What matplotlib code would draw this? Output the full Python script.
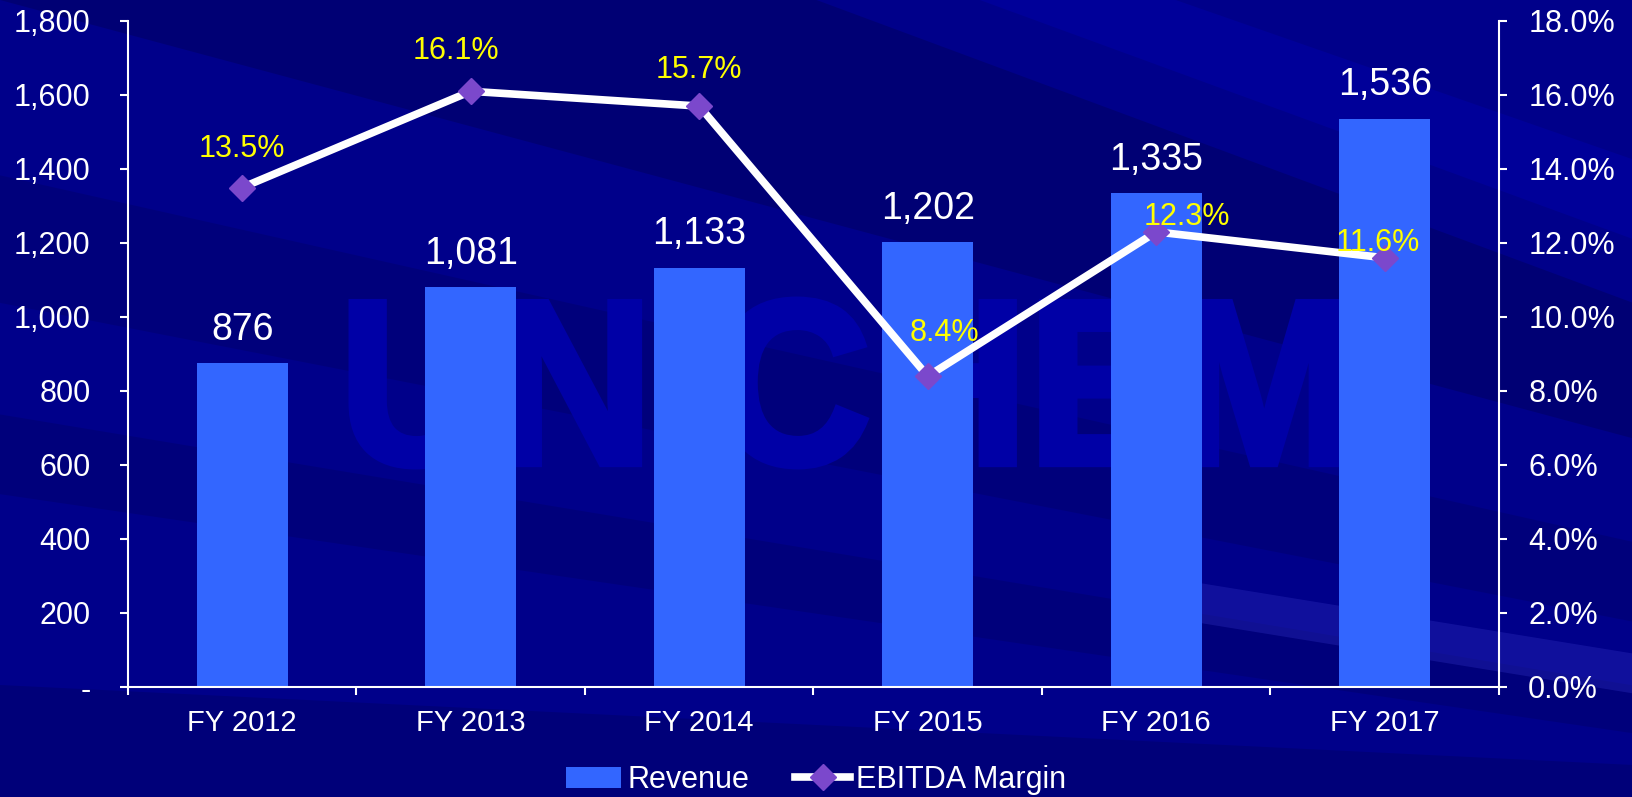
import matplotlib.pyplot as plt
import numpy as np
from matplotlib.patches import Polygon, PathPatch
from matplotlib.textpath import TextPath
from matplotlib.font_manager import FontProperties
from matplotlib.transforms import Affine2D, IdentityTransform
from matplotlib.ticker import FuncFormatter

plt.rcParams['font.family'] = ['Liberation Sans', 'DejaVu Sans']

years = ["FY 2012", "FY 2013", "FY 2014", "FY 2015", "FY 2016", "FY 2017"]
revenue = [876, 1081, 1133, 1202, 1335, 1536]
ebitda_margin = [13.5, 16.1, 15.7, 8.4, 12.3, 11.6]
# label offsets in points (dx, dy) for the margin labels, as placed in the slide
margin_label_offsets = [(0, 28), (-11, 29), (0, 26), (12, 31), (22, 11), (-5, 11)]

W, H = 1633, 797
fig = plt.figure(figsize=(W / 100, H / 100), dpi=100)
fig.patch.set_facecolor('#00008A')

# background stripes (slide decoration)
bands = [
    ([(0, 1), (0.5, 1), (1, 0.62), (1, 0.45)], '#00005A', 0.45),
    ([(0, 0.78), (0, 0.62), (1, 0.22), (1, 0.32)], '#00005A', 0.30),
    ([(0, 0.48), (0, 0.38), (1, 0.08), (1, 0.14)], '#00005A', 0.30),
    ([(0.73, 0.27), (1, 0.18), (1, 0.13), (0.73, 0.22)], '#3030C0', 0.35),
    ([(0, 0.14), (0, 0.0), (1, 0.0), (1, 0.04)], '#00005A', 0.35),
    ([(0.6, 1), (0.72, 1), (1, 0.8), (1, 0.7)], '#0000A8', 0.5),
]
for pts, c, a in bands:
    fig.patches.append(Polygon(pts, closed=True, transform=fig.transFigure,
                               facecolor=c, alpha=a, edgecolor='none', zorder=0))

# watermark, stretched into the box it fills on the slide
tp = TextPath((0, 0), "UNICHEM", size=1, prop=FontProperties(family='Liberation Sans', weight='bold'))
ext = tp.get_extents()
x0, x1, ytop, ybot = 352, 1340, 300, 466
sx = (x1 - x0) / ext.width
sy = (ybot - ytop) / ext.height
tr = Affine2D().translate(-ext.x0, -ext.y0).scale(sx, sy).translate(x0, H - ybot) + IdentityTransform()
fig.patches.append(PathPatch(tp, transform=tr, facecolor='#0000A6', edgecolor='#0000A6',
                             linewidth=5, zorder=0.5))

ax = fig.add_axes([128 / W, 1 - 687 / H, (1499 - 128) / W, (687 - 21) / H])
ax.set_zorder(2)
ax.patch.set_alpha(0)
x = np.arange(len(years))

bars = ax.bar(x, revenue, width=0.4, color='#3366FF', zorder=2)
for xi, v in zip(x, revenue):
    ax.annotate(f"{v:,}", (xi, v), xytext=(0, 24), textcoords='offset points',
                ha='center', va='center', color='white', fontsize=27)

ax.set_xlim(-0.5, len(years) - 0.5)
ax.set_ylim(0, 1800)
ax.set_yticks(np.arange(0, 1801, 200))
ax.yaxis.set_major_formatter(FuncFormatter(lambda v, p: "-" if v == 0 else f"{int(v):,}"))
ax.set_xticks(x)
ax.set_xticklabels(years)
ax.set_xticks(np.arange(-0.5, len(years), 1), minor=True)
ax.tick_params(axis='x', which='major', length=0, pad=16, colors='white', labelsize=21)
ax.tick_params(axis='x', which='minor', length=6, width=1.5, color='white', direction='out')
ax.tick_params(axis='y', length=6, width=1.5, colors='white', labelsize=22, pad=21)
for s in ['top', 'right']:
    ax.spines[s].set_visible(False)
for s in ['left', 'bottom']:
    ax.spines[s].set_color('white')
    ax.spines[s].set_linewidth(1.5)

ax2 = ax.twinx()
ax2.set_zorder(3)
ax2.patch.set_alpha(0)
line, = ax2.plot(x, ebitda_margin, color='white', lw=5.5, marker='D', markersize=13,
                 markerfacecolor='#7B48CC', markeredgecolor='#7B48CC', zorder=3)
ax2.set_ylim(0, 18)
ax2.set_yticks(np.arange(0, 18.1, 2))
ax2.yaxis.set_major_formatter(FuncFormatter(lambda v, p: f"{v:.1f}%"))
ax2.tick_params(axis='y', length=6, width=1.5, colors='white', labelsize=22, pad=15)
for s in ['top', 'left', 'bottom']:
    ax2.spines[s].set_visible(False)
ax2.spines['right'].set_color('white')
ax2.spines['right'].set_linewidth(1.5)
for xi, v, (dx, dy) in zip(x, ebitda_margin, margin_label_offsets):
    ax2.annotate(f"{v:.1f}%", (xi, v), xytext=(dx, dy), textcoords='offset points',
                 ha='center', va='center', color='#FFFF00', fontsize=22, zorder=4)

leg = fig.legend([bars, line], ["Revenue", "EBITDA Margin"], loc='center',
                 bbox_to_anchor=(0.5, 1 - 780 / H), ncol=2, frameon=False,
                 fontsize=22, labelcolor='white', handlelength=1.8, handletextpad=0.2,
                 columnspacing=1.5)

fig.savefig("out.png", dpi=100, facecolor=fig.get_facecolor())
